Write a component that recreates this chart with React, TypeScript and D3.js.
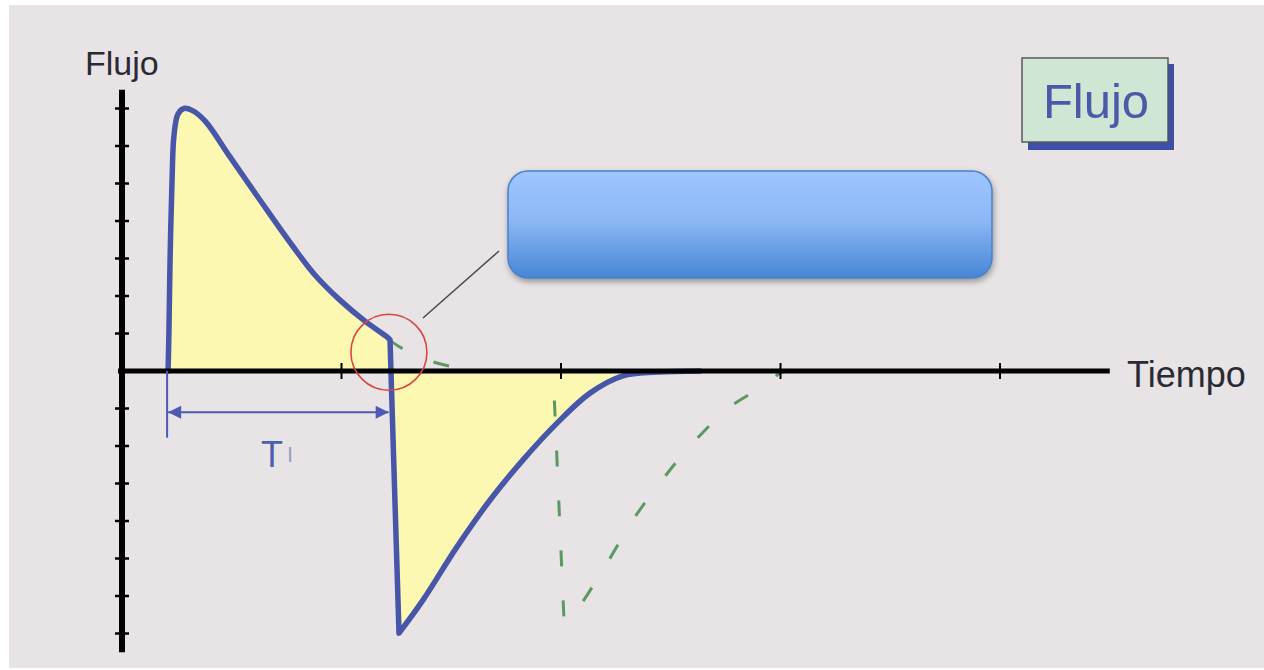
import React, { useEffect, useRef } from 'react';
import * as d3 from 'd3';

// flow waveform (time and flow in tick units)
// inspiration: rise to peak then decelerating flow
const inspTime = [0.21, 0.214, 0.219, 0.228, 0.237, 0.255, 0.282, 0.319, 0.378, 0.492, 0.638, 0.774, 0.879, 0.993, 1.107, 1.207, 1.221];
const inspFlow = [0, 1.09, 2.96, 5.09, 6.29, 6.85, 7.0, 6.95, 6.67, 5.71, 4.48, 3.36, 2.56, 1.89, 1.33, 0.91, 0.83];
// expiration: peak expiratory flow then return to zero
const expTime = [1.262, 1.371, 1.526, 1.677, 1.827, 1.982, 2.132, 2.282, 2.437, 2.633];
const expFlow = [-6.99, -6.11, -4.69, -3.44, -2.37, -1.39, -0.59, -0.13, -0.03, 0];

// dashed green (longer inspiration, then delayed expiration)
const greenDecayTime = [1.216, 1.289, 1.403, 1.54, 1.677, 1.964];
const greenDecayFlow = [0.83, 0.56, 0.27, 0.08, 0, 0];
const greenExpTime = [2.014, 2.064, 2.21, 2.328, 2.46, 2.601, 2.77, 2.952, 2.998, 3.043, 3.226];
const greenExpFlow = [-6.69, -6.43, -5.12, -3.97, -2.91, -1.92, -0.96, -0.29, -0.05, 0, 0];

const xTicks = [1, 2, 3, 4];
const yTicks = [-7, -6, -5, -4, -3, -2, -1, 1, 2, 3, 4, 5, 6, 7];

// inspiratory time marker
const tiStart = 0.21;
const tiEnd = 1.215;
const tiLevel = -1.1;

const yLabel = 'Flujo';
const xLabel = 'Tiempo';
const boxLabel = 'Flujo';

const font = "'Liberation Sans', Arial, sans-serif";

const zip = (t: number[], f: number[]) => t.map((v, i) => [v, f[i]] as [number, number]);

function App() {
  const svgRef = useRef<SVGSVGElement>(null);

  useEffect(() => {
    const svg = d3.select(svgRef.current);
    svg.selectAll('*').remove();

    const x = d3.scaleLinear().domain([0, 4]).range([122, 1000]);
    const y = d3.scaleLinear().domain([-7, 7]).range([633.5, 108.5]);

    const defs = svg.append('defs');
    const grad = defs.append('linearGradient').attr('id', 'boxGrad').attr('x1', 0).attr('y1', 0).attr('x2', 0).attr('y2', 1);
    grad.append('stop').attr('offset', '0%').attr('stop-color', '#9ec5fe');
    grad.append('stop').attr('offset', '45%').attr('stop-color', '#8db8f5');
    grad.append('stop').attr('offset', '100%').attr('stop-color', '#4686d5');
    defs
      .append('filter')
      .attr('id', 'shadow')
      .attr('x', '-10%')
      .attr('y', '-20%')
      .attr('width', '120%')
      .attr('height', '150%')
      .append('feDropShadow')
      .attr('dx', 1)
      .attr('dy', 3)
      .attr('stdDeviation', 3)
      .attr('flood-color', '#000')
      .attr('flood-opacity', 0.35);
    defs
      .append('marker')
      .attr('id', 'tiArrow')
      .attr('viewBox', '0 0 10 10')
      .attr('refX', 10)
      .attr('refY', 5)
      .attr('markerUnits', 'userSpaceOnUse')
      .attr('markerWidth', 18)
      .attr('markerHeight', 13)
      .attr('orient', 'auto-start-reverse')
      .append('path')
      .attr('d', 'M0,0 L10,5 L0,10 Z')
      .attr('fill', '#4a5ab5');

    // background panel
    svg.append('rect').attr('x', 9).attr('y', 5).attr('width', 1255).attr('height', 663).attr('fill', '#e8e3e5');

    const line = d3
      .line<[number, number]>()
      .x((d) => x(d[0]))
      .y((d) => y(d[1]))
      .curve(d3.curveCatmullRom.alpha(0.5));
    // smooth pieces joined by straight segments (sharp corners)
    const joined = (...parts: [number, number][][]) =>
      parts.map((p, i) => (i === 0 ? line(p) : line(p)!.replace(/^M/, 'L'))).join('');

    const bluePath = joined(zip(inspTime, inspFlow), zip(expTime, expFlow));
    const greenPath = joined(zip(greenDecayTime, greenDecayFlow), zip(greenExpTime, greenExpFlow));

    // yellow area between curve and zero line
    svg
      .append('path')
      .attr('d', bluePath + 'Z')
      .attr('fill', '#fcf8b2')
      .attr('stroke', 'none');

    // dashed green
    svg
      .append('path')
      .attr('d', greenPath)
      .attr('fill', 'none')
      .attr('stroke', '#5a9a62')
      .attr('stroke-width', 3)
      .attr('stroke-dasharray', '16 34');

    // blue waveform
    svg
      .append('path')
      .attr('d', bluePath)
      .attr('fill', 'none')
      .attr('stroke', '#4756a8')
      .attr('stroke-width', 5.5)
      .attr('stroke-linejoin', 'round')
      .attr('stroke-linecap', 'round');

    // axes
    svg
      .append('line')
      .attr('x1', x(0))
      .attr('x2', x(0))
      .attr('y1', y(7.5))
      .attr('y2', y(-7.5))
      .attr('stroke', '#000')
      .attr('stroke-width', 6);
    svg
      .append('line')
      .attr('x1', x(-0.018))
      .attr('x2', x(4.5))
      .attr('y1', y(0))
      .attr('y2', y(0))
      .attr('stroke', '#000')
      .attr('stroke-width', 5);
    svg
      .append('g')
      .selectAll('line')
      .data(yTicks)
      .enter()
      .append('line')
      .attr('x1', x(0) - 7)
      .attr('x2', x(0) + 7)
      .attr('y1', (d) => y(d))
      .attr('y2', (d) => y(d))
      .attr('stroke', '#000')
      .attr('stroke-width', 2.5);
    svg
      .append('g')
      .selectAll('line')
      .data(xTicks)
      .enter()
      .append('line')
      .attr('x1', (d) => x(d))
      .attr('x2', (d) => x(d))
      .attr('y1', y(0) - 8)
      .attr('y2', y(0) + 8)
      .attr('stroke', '#000')
      .attr('stroke-width', 2);

    svg
      .append('text')
      .attr('x', 85)
      .attr('y', 75)
      .attr('font-family', font)
      .attr('font-size', 34)
      .attr('fill', '#2a2a35')
      .text(yLabel);
    svg
      .append('text')
      .attr('x', 1127)
      .attr('y', 387)
      .attr('font-family', font)
      .attr('font-size', 36)
      .attr('fill', '#2a2a35')
      .text(xLabel);

    // TI dimension
    svg
      .append('line')
      .attr('x1', x(tiStart) - 1)
      .attr('x2', x(tiStart) - 1)
      .attr('y1', y(0))
      .attr('y2', y(-1.78))
      .attr('stroke', '#4a5ab5')
      .attr('stroke-width', 2);
    svg
      .append('line')
      .attr('x1', x(tiStart))
      .attr('x2', x(tiEnd))
      .attr('y1', y(tiLevel))
      .attr('y2', y(tiLevel))
      .attr('stroke', '#4a5ab5')
      .attr('stroke-width', 2)
      .attr('marker-start', 'url(#tiArrow)')
      .attr('marker-end', 'url(#tiArrow)');
    const ti = svg
      .append('text')
      .attr('x', 261)
      .attr('y', 467)
      .attr('font-family', font)
      .attr('font-size', 36)
      .attr('fill', '#4f5fb0');
    ti.append('tspan').text('T');
    ti.append('tspan').attr('font-size', 22).attr('dy', -5).attr('dx', 4).attr('fill', '#95a0cc').text('I');

    // red highlight circle and callout
    svg
      .append('circle')
      .attr('cx', x(1.216))
      .attr('cy', y(0.5))
      .attr('r', 38)
      .attr('fill', 'none')
      .attr('stroke', '#d94444')
      .attr('stroke-width', 1.6);
    svg
      .append('line')
      .attr('x1', 423)
      .attr('y1', 318)
      .attr('x2', 499)
      .attr('y2', 251)
      .attr('stroke', '#4a4a4a')
      .attr('stroke-width', 1.5);
    svg
      .append('rect')
      .attr('x', 508)
      .attr('y', 171)
      .attr('width', 484)
      .attr('height', 107)
      .attr('rx', 20)
      .attr('fill', 'url(#boxGrad)')
      .attr('stroke', '#4a80c8')
      .attr('stroke-width', 1.5)
      .attr('filter', 'url(#shadow)');

    // title box
    svg.append('rect').attr('x', 1028).attr('y', 64).attr('width', 146).attr('height', 86).attr('fill', '#3f4fa8');
    svg
      .append('rect')
      .attr('x', 1022)
      .attr('y', 58)
      .attr('width', 146)
      .attr('height', 84)
      .attr('fill', '#cfe6d5')
      .attr('stroke', '#5a5a5a')
      .attr('stroke-width', 1.5);
    svg
      .append('text')
      .attr('x', 1096)
      .attr('y', 118)
      .attr('text-anchor', 'middle')
      .attr('font-family', font)
      .attr('font-size', 49)
      .attr('fill', '#4a5aa8')
      .text(boxLabel);
  }, []);

  return <svg ref={svgRef} width={1264} height={670} style={{ position: 'absolute', left: 0, top: 0 }} />;
}

export default App;
